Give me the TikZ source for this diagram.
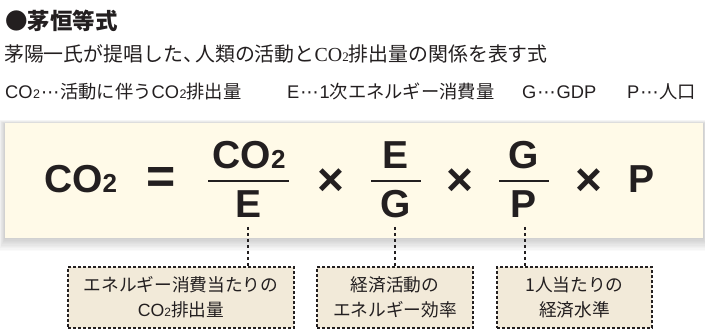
\documentclass[tikz,border=0pt]{standalone}
\usepackage{fontspec}
\setmainfont{Liberation Sans}
\newfontfamily\cjk{Noto Sans CJK JP}
\newfontfamily\hv{Liberation Sans}
\newfontfamily\tm{Liberation Serif}
\newfontfamily\djv{DejaVu Sans}
\definecolor{ink}{RGB}{35,31,32}
\definecolor{cream}{RGB}{255,250,232}
\definecolor{beige}{RGB}{242,234,217}
\newcommand\fsz[1]{\fontsize{#1}{#1}\selectfont}
\newcommand\subtwo{{\fsz{26}2}}
\newcommand\stwo[1]{{\fsz{#1}2}}
\newcommand\mydots{{\djv\kern0.05em⋯\kern0.05em}}
\tikzset{
  fbig/.style={font=\hv\bfseries\fsz{39}},
  opsign/.style={font=\hv\bfseries\fsz{46}, anchor=center},
  fracbar/.style={line width=1.3pt, draw=ink},
  conn/.style={draw=ink, line width=1.1pt, dash pattern=on 3.5pt off 2.5pt},
  anno/.style={draw=ink, fill=beige, line width=1.1pt, dash pattern=on 3pt off 2pt,
    align=center, font=\cjk\fontsize{17.7}{25}\selectfont},
  panelbox/.style={fill=cream, minimum width=698pt, minimum height=115pt},
  keytext/.style={anchor=base west, font=\cjk\fsz{18.3}},
}
\begin{document}
\begin{tikzpicture}[x=1pt,y=-1pt, every node/.append style={inner sep=0pt, text=ink}]
\useasboundingbox (0,0) rectangle (705,334);
% header texts
\node[anchor=base west, font=\cjk\bfseries\fsz{22.5}] (title) at (5,29.5) {●茅恒等式};
\node[anchor=base west, font=\cjk\fsz{19.9}] (lead) at (4,62) {茅陽一氏が提唱した、\kern-0.4em 人類の活動と{\tm CO\stwo{13}}排出量の関係を表す式};
\node[keytext] (k1) at (5,99) {{\hv CO\kern0.5pt\stwo{12.5}}\mydots 活動に伴う{\hv CO\kern0.5pt\stwo{12.5}}排出量};
\node[keytext] (k2) at (287,99) {{\hv E}\mydots{\hv 1}次エネルギー消費量};
\node[keytext] (k3) at (522,99) {{\hv G}\mydots{\hv GDP}};
\node[keytext] (k4) at (627,99) {{\hv P}\mydots 人口};
% shadow
\foreach \i in {1,...,10} {
  \fill[black, opacity=0.02] (5-\i*0.6, 124-\i*0.4) rectangle (703+\i*0.7, 238+\i*1.3);
}
\node[panelbox] (panel) at (354,180.5) {};
% formula
\node[fbig, anchor=base west] (co2) at (44,193) {CO\subtwo};
\node[opsign, font=\hv\bfseries\fsz{50}] (eq) at (161,181) {=};
\node[fbig, anchor=base] (n1) at (249,168.5) {CO\subtwo};
\node[fbig, anchor=base] (d1) at (249,217.5) {E};
\draw[fracbar] (208,181) -- (289,181);
\node[opsign] (x1) at (331,182) {×};
\node[fbig, anchor=base] (n2) at (396,169) {E};
\node[fbig, anchor=base] (d2) at (396,218) {G};
\draw[fracbar] (371,181) -- (421,181);
\node[opsign] (x2) at (460,182) {×};
\node[fbig, anchor=base] (n3) at (524,169) {G};
\node[fbig, anchor=base] (d3) at (524,218) {P};
\draw[fracbar] (499,181) -- (549,181);
\node[opsign] (x3) at (589,182) {×};
\node[fbig, anchor=base west] (p) at (628,193) {P};
% annotation boxes
\node[anno, minimum width=226pt, minimum height=61pt] (b1) at (181,297.5) {エネルギー消費当たりの\\{\hv CO\stwo{12}}排出量};
\node[anno, minimum width=156pt, minimum height=61pt] (b2) at (395,297.5) {経済活動の\\エネルギー効率};
\node[anno, minimum width=155pt, minimum height=61pt] (b3) at (574.5,297.5) {1人当たりの\\経済水準};
% connectors
\coordinate (c1) at (248,227);
\coordinate (c2) at (395,227);
\coordinate (c3) at (525,227);
\draw[conn] (c1) -- (c1 |- b1.north);
\draw[conn] (c2) -- (c2 |- b2.north);
\draw[conn] (c3) -- (c3 |- b3.north);
\end{tikzpicture}
\end{document}
